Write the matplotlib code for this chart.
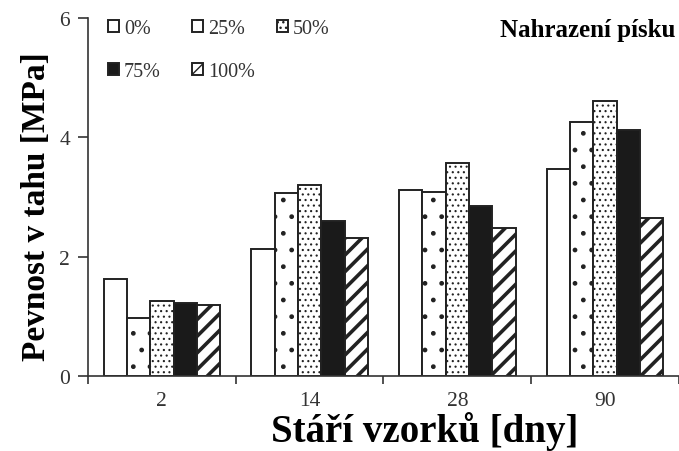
import numpy as np
import matplotlib
matplotlib.use('Agg')
import matplotlib.pyplot as plt
from matplotlib.legend import Legend

plt.rcParams['font.family'] = ['Liberation Serif', 'DejaVu Serif']

# data
days = ['2', '14', '28', '90']
labels = ['0%', '25%', '50%', '75%', '100%']
vals = {
    '0%':   [1.62, 2.12, 3.12, 3.47],
    '25%':  [0.97, 3.07, 3.09, 4.25],
    '50%':  [1.26, 3.20, 3.57, 4.61],
    '75%':  [1.22, 2.60, 2.85, 4.12],
    '100%': [1.19, 2.31, 2.48, 2.65],
}
fills = ['white', 'white', 'white', '#1a1a1a', 'white']
hatches = [None, '.', '...', None, '//']
hlw = [1.0, 1.0, 0.8, 1.0, 2.6]

fig = plt.figure(figsize=(6.79, 4.52), dpi=100)
ax = fig.add_axes([0.1296, 0.166, 0.8704, 0.792])

x = np.arange(len(days))
w = 0.158
handles = []
for i, lab in enumerate(labels):
    with plt.rc_context({'hatch.linewidth': hlw[i]}):
        bars = ax.bar(x + (i - 2) * w, vals[lab], w, color=fills[i], edgecolor='#222222',
                      linewidth=1.4, hatch=hatches[i], label=lab)
        for b in bars:
            if hasattr(b, 'set_hatch_linewidth'):
                b.set_hatch_linewidth(hlw[i])
    handles.append(bars)

ax.set_xlim(-0.5, 3.466)
ax.set_ylim(0, 6)
ax.set_yticks([0, 2, 4, 6])
ax.set_xticks(x)
ax.set_xticklabels(days)
ax.set_xticks(np.arange(-0.5, 3.6, 1), minor=True)
ax.tick_params(axis='x', which='major', length=0, pad=11)
ax.tick_params(axis='x', which='minor', length=6, width=1.2, color='#333333')
ax.tick_params(axis='y', length=7, width=1.2, color='#333333', pad=6)
ax.tick_params(labelsize=15.5, labelcolor='#333333')
for s in ['top', 'right']:
    ax.spines[s].set_visible(False)
for s in ['left', 'bottom']:
    ax.spines[s].set_color('#333333')
    ax.spines[s].set_linewidth(1.2)

ax.set_ylabel('Pevnost v tahu [MPa]', fontsize=24, fontweight='bold')
ax.yaxis.set_label_coords(-0.061, 0.475)
ax.set_xlabel('Stáří vzorků [dny]', fontsize=28, fontweight='bold')
ax.xaxis.set_label_coords(0.57, -0.098)

# legend laid out row by row: three columns placed by hand
cols = [[0, 3], [1, 4], [2]]
col_x = [108, 192, 277]
for c, idx in enumerate(cols):
    leg = Legend(ax, [handles[k] for k in idx], [labels[k] for k in idx],
                 loc='upper left', bbox_to_anchor=(col_x[c] / 679, 1 - 20 / 452),
                 bbox_transform=fig.transFigure, frameon=False, fontsize=14.5,
                 handlelength=0.55, handleheight=0.55, handletextpad=0.25,
                 labelspacing=1.2, borderpad=0, borderaxespad=0)
    for t in leg.get_texts():
        t.set_color('#333333')
    ax.add_artist(leg)

fig.text(675 / 679, 1 - 37 / 452, 'Nahrazení písku', ha='right', va='baseline',
         fontsize=18, fontweight='bold')

fig.savefig('out.png', dpi=100)
